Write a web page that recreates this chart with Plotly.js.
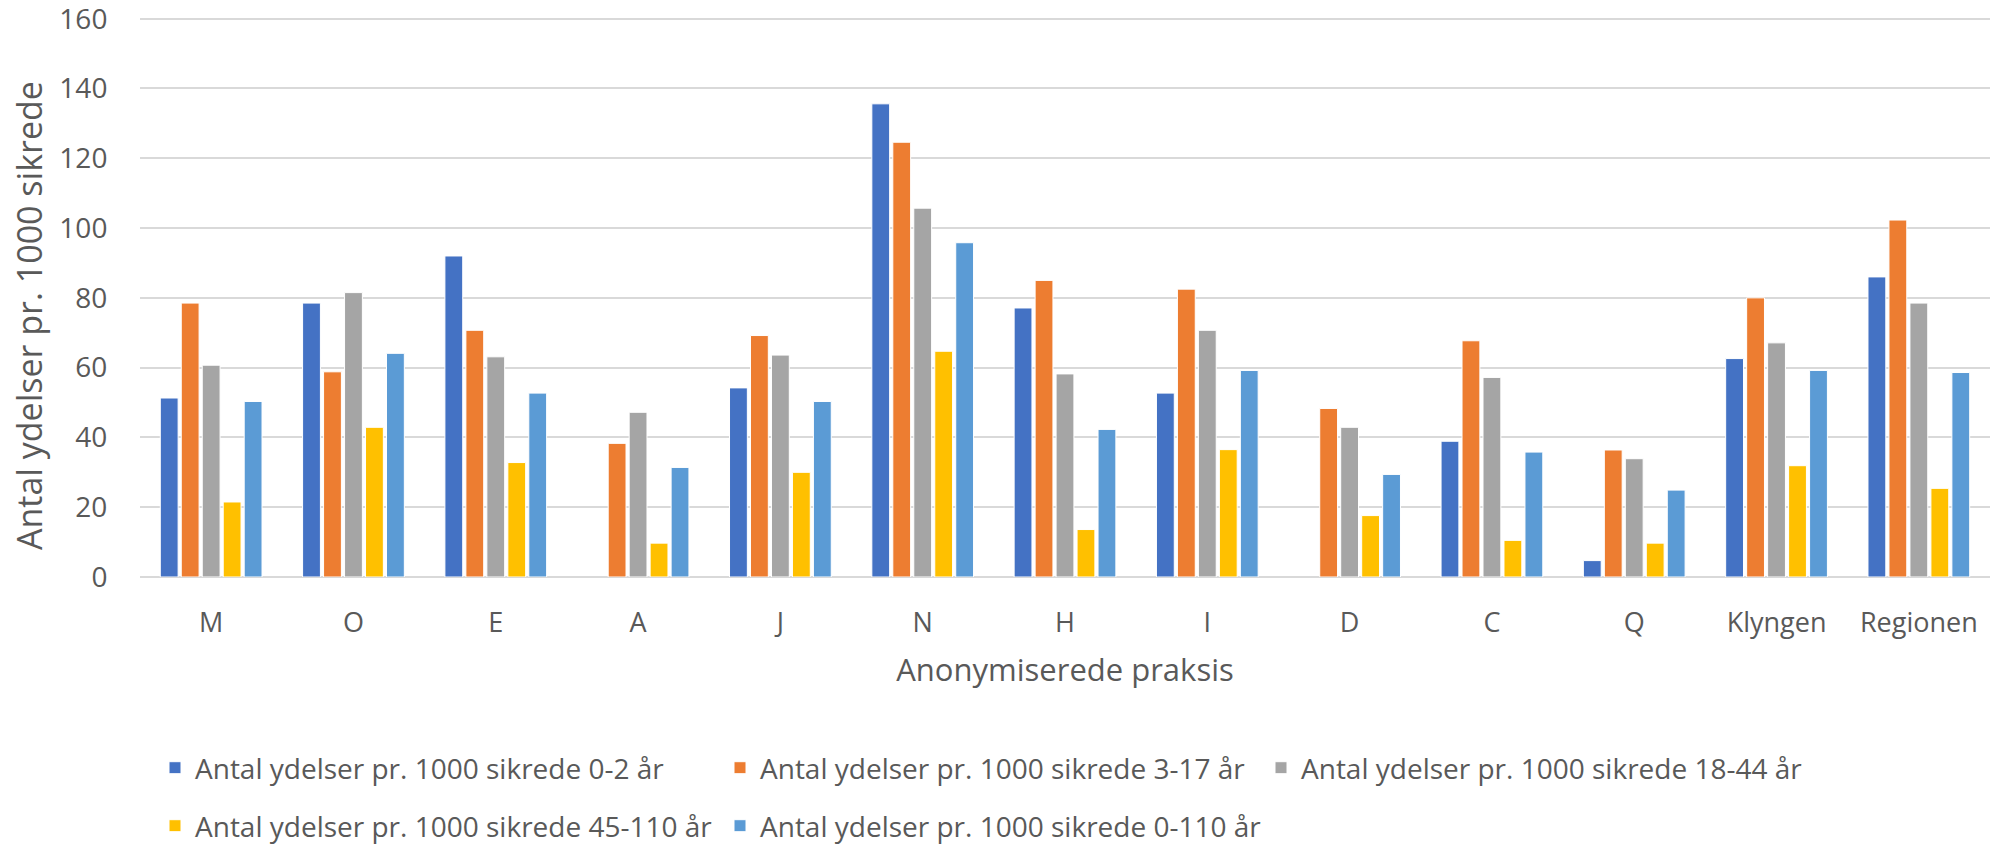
<!DOCTYPE html>
<html>
<head>
<meta charset="utf-8">
<script src="https://cdn.plot.ly/plotly-3.0.1.min.js"></script>
<style>html,body{margin:0;padding:0;background:#fff;}#chart{width:1991px;height:846px;}</style>
</head>
<body>
<div id="chart"></div>
<script>
const categories = ["M","O","E","A","J","N","H","I","D","C","Q","Klyngen","Regionen"];
const seriesNames = [
  "Antal ydelser pr. 1000 sikrede 0-2 år",
  "Antal ydelser pr. 1000 sikrede 3-17 år",
  "Antal ydelser pr. 1000 sikrede 18-44 år",
  "Antal ydelser pr. 1000 sikrede 45-110 år",
  "Antal ydelser pr. 1000 sikrede 0-110 år"
];
const age0_2    = [51.3, 78.5, 92.0, null, 54.2, 135.6, 77.1, 52.7, null, 38.9, 4.7, 62.6, 86.0];
const age3_17   = [78.5, 58.8, 70.7, 38.3, 69.2, 124.6, 85.0, 82.5, 48.3, 67.7, 36.4, 80.0, 102.3];
const age18_44  = [60.7, 81.5, 63.1, 47.2, 63.6, 105.7, 58.2, 70.7, 42.9, 57.2, 33.9, 67.1, 78.5];
const age45_110 = [21.5, 42.9, 32.8, 9.7, 30.0, 64.7, 13.6, 36.5, 17.6, 10.5, 9.7, 31.9, 25.4];
const age0_110  = [50.3, 64.1, 52.7, 31.4, 50.3, 95.8, 42.3, 59.2, 29.4, 35.8, 24.9, 59.2, 58.6];
const yTickVals = [0,20,40,60,80,100,120,140,160];
const xTitle = "Anonymiserede praksis";
const yTitle = "Antal ydelser pr. 1000 sikrede";

const colors = ["#4472C4","#ED7D31","#A5A5A5","#FFC000","#5B9BD5"];
const allSeries = [age0_2, age3_17, age18_44, age45_110, age0_110];
const legendIds = ["legend","legend2","legend3","legend4","legend5"];

const traces = allSeries.map((vals, i) => ({
  type: "bar",
  name: seriesNames[i],
  x: categories,
  y: vals,
  marker: {color: colors[i], line: {color: "#ffffff", width: 1}},
  legend: legendIds[i],
  hoverinfo: "x+y+name"
}));

const FONT = "'Open Sans', 'Noto Sans', sans-serif";
const W = 1991, H = 846;
const plotBottom = 577;          // pixel row of the 0 line
const plotTopTick = 18.7;        // pixel row of the 160 line
const yMax = 160 * plotBottom / (plotBottom - plotTopTick);

function legendAt(squareLeft, centerY) {
  return {
    orientation: "h",
    xref: "container", yref: "container",
    x: (squareLeft - 13) / W, xanchor: "left",
    y: (H - centerY) / H, yanchor: "middle",
    font: {family: FONT, size: 28, color: "#595959"},
    bgcolor: "rgba(0,0,0,0)"
  };
}

const layout = {
  width: W, height: H,
  margin: {l: 140, r: 1, t: 0, b: H - plotBottom, pad: 0},
  paper_bgcolor: "#ffffff",
  plot_bgcolor: "#ffffff",
  font: {family: FONT, color: "#595959"},
  barmode: "group",
  bargap: 0.263,
  bargroupgap: 0.15,
  showlegend: true,
  xaxis: {
    type: "category",
    tickfont: {family: FONT, size: 27, color: "#595959"},
    ticks: "outside", ticklen: 22, tickcolor: "rgba(0,0,0,0)",
    showline: false, showgrid: false,
    title: {text: xTitle, font: {family: FONT, size: 31, color: "#595959"}, standoff: 19},
    automargin: false
  },
  yaxis: {
    range: [0, yMax],
    tickvals: yTickVals,
    ticklabeloverflow: "allow",
    tickfont: {family: FONT, size: 28, color: "#595959"},
    ticks: "outside", ticklen: 26, tickcolor: "rgba(0,0,0,0)",
    showgrid: true, gridcolor: "#d9d9d9", gridwidth: 2,
    zeroline: true, zerolinecolor: "#d9d9d9", zerolinewidth: 2,
    showline: false,
    automargin: false
  },
  annotations: [{
    text: yTitle,
    xref: "paper", yref: "paper",
    x: (29 - 140) / 1850, y: (plotBottom - 316) / plotBottom,
    xanchor: "center", yanchor: "middle",
    textangle: -90, showarrow: false,
    font: {family: FONT, size: 34, color: "#595959"}
  }],
  legend: legendAt(168, 768),
  legend2: legendAt(733, 768),
  legend3: legendAt(1274, 768),
  legend4: legendAt(168, 826),
  legend5: legendAt(733, 826)
};

Plotly.newPlot("chart", traces, layout, {displayModeBar: false, responsive: false});
</script>
</body>
</html>
